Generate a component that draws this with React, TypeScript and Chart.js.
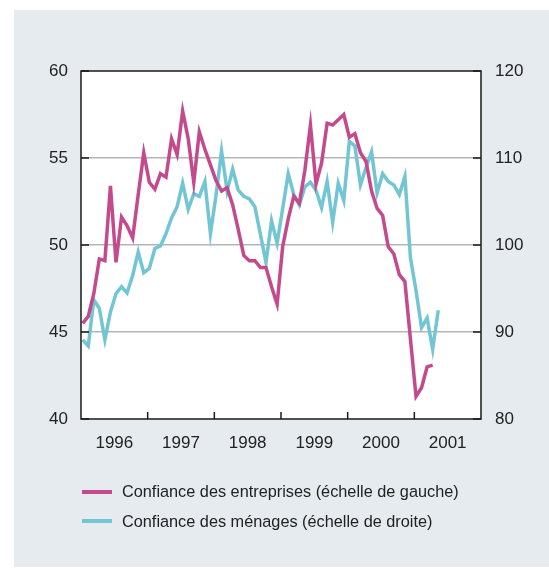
import React, { useEffect, useRef } from "react";
import { Chart, registerables } from "chart.js";

Chart.register(...registerables);

const startYear = 1996;
const endYear = 2002;
const yearTicks = [1996, 1997, 1998, 1999, 2000, 2001];

const businessLabel = "Confiance des entreprises (échelle de gauche)";
const householdLabel = "Confiance des ménages (échelle de droite)";

// Monthly values from January 1996
const businessConfidence = [
  45.5, 45.9, 47.2, 49.2, 49.1, 53.4, 49.0, 51.6, 51.1, 50.4, 52.9, 55.3,
  53.6, 53.2, 54.1, 53.9, 56.1, 55.2, 57.7, 56.1, 53.6, 56.5, 55.5, 54.6,
  53.7, 53.1, 53.3, 52.3, 50.9, 49.4, 49.1, 49.1, 48.7, 48.7, 47.6, 46.6,
  49.9, 51.5, 52.8, 52.4, 54.3, 56.9, 53.5, 54.7, 57.0, 56.9, 57.2, 57.5,
  56.2, 56.4, 55.3, 54.8, 53.1, 52.1, 51.7, 49.9, 49.5, 48.3, 47.9, 44.6,
  41.3, 41.8, 43.0, 43.1,
];

const householdConfidence = [
  89.1, 88.4, 93.7, 92.7, 89.1, 92.3, 94.4, 95.2, 94.5, 96.5, 99.2, 96.8,
  97.3, 99.6, 99.9, 101.3, 103.1, 104.4, 107.1, 104.1, 105.9, 105.6, 107.3, 101.3,
  105.7, 110.8, 106.2, 108.7, 106.3, 105.6, 105.3, 104.4, 101.2, 98.0, 102.8, 100.2,
  104.2, 108.2, 105.8, 104.6, 106.7, 107.2, 106.3, 104.3, 107.3, 102.6, 107.1, 105.1,
  111.9, 111.4, 106.9, 108.9, 110.7, 106.0, 108.2, 107.3, 106.9, 105.8, 107.9, 98.5,
  94.8, 90.5, 91.6, 88.0, 92.5,
];

const leftTicks = [40, 45, 50, 55, 60];
const rightTicks = [80, 90, 100, 110, 120];

const magenta = "#c44a8e";
const cyan = "#72c6d4";
const panelBg = "#e5ebef";
const textColor = "#222222";
const FONT = "'Liberation Sans', Arial, sans-serif";

const monthX = (i: number) => startYear + (i + 0.3) / 12;

const frame = {
  id: "frame",
  beforeDraw(chart: any) {
    const { ctx, chartArea: a } = chart;
    ctx.save();
    ctx.fillStyle = "#ffffff";
    ctx.fillRect(a.left, a.top, a.right - a.left, a.bottom - a.top);
    ctx.restore();
  },
  afterDraw(chart: any) {
    const { ctx, chartArea: a, scales } = chart;
    ctx.save();
    ctx.strokeStyle = "#1a1a1a";
    ctx.lineWidth = 1.5;
    ctx.beginPath();
    leftTicks.forEach((v) => {
      const y = scales.y.getPixelForValue(v);
      ctx.moveTo(a.left, y);
      ctx.lineTo(a.left + 8, y);
    });
    rightTicks.forEach((v) => {
      const y = scales.y2.getPixelForValue(v);
      ctx.moveTo(a.right, y);
      ctx.lineTo(a.right - 8, y);
    });
    for (let yr = startYear + 1; yr < endYear; yr++) {
      const x = scales.x.getPixelForValue(yr);
      ctx.moveTo(x, a.bottom);
      ctx.lineTo(x, a.bottom - 7);
    }
    ctx.stroke();
    ctx.strokeRect(a.left, a.top, a.right - a.left, a.bottom - a.top);
    ctx.restore();
  },
};

export default function App() {
  const ref = useRef<HTMLCanvasElement | null>(null);

  useEffect(() => {
    document.body.style.margin = "0";
    const canvas = ref.current;
    if (!canvas) return;
    const chart = new Chart(canvas, {
      type: "line",
      data: {
        datasets: [
          {
            label: businessLabel,
            data: businessConfidence.map((v, i) => ({ x: monthX(i), y: v })),
            borderColor: magenta,
            backgroundColor: magenta,
            borderWidth: 3.5,
            pointRadius: 0,
            tension: 0,
            yAxisID: "y",
          },
          {
            label: householdLabel,
            data: householdConfidence.map((v, i) => ({ x: monthX(i), y: v })),
            borderColor: cyan,
            backgroundColor: cyan,
            borderWidth: 3.5,
            pointRadius: 0,
            tension: 0,
            yAxisID: "y2",
          },
        ],
      },
      options: {
        animation: false,
        responsive: false,
        maintainAspectRatio: false,
        layout: { padding: { left: 0, right: 0, top: 71, bottom: 113 } },
        plugins: { legend: { display: false }, tooltip: { enabled: false } },
        scales: {
          x: {
            type: "linear",
            min: startYear,
            max: endYear,
            grid: { display: false, drawTicks: false },
            border: { display: false },
            afterBuildTicks: (s: any) => {
              s.ticks = [...yearTicks, endYear].map((v) => ({ value: v }));
            },
            afterFit: (s: any) => {
              s.height = 40;
            },
            ticks: {
              autoSkip: false,
              maxRotation: 0,
              padding: 14,
              labelOffset: 33.33,
              color: textColor,
              font: { family: FONT, size: 17 },
              callback: (v: any) => (yearTicks.includes(v) ? String(v) : ""),
            },
          },
          y: {
            position: "left",
            min: 40,
            max: 60,
            afterBuildTicks: (s: any) => {
              s.ticks = leftTicks.map((v) => ({ value: v }));
            },
            afterFit: (s: any) => {
              s.width = 81;
            },
            grid: {
              color: (c: any) =>
                c.tick && (c.tick.value === 40 || c.tick.value === 60) ? "rgba(0,0,0,0)" : "#b5b5b5",
              lineWidth: 1.5,
              drawTicks: false,
            },
            border: { display: false },
            ticks: {
              padding: 13,
              color: textColor,
              font: { family: FONT, size: 17 },
            },
          },
          y2: {
            position: "right",
            min: 80,
            max: 120,
            afterBuildTicks: (s: any) => {
              s.ticks = rightTicks.map((v) => ({ value: v }));
            },
            afterFit: (s: any) => {
              s.width = 68;
            },
            grid: { display: false, drawTicks: false },
            border: { display: false },
            ticks: {
              padding: 14,
              color: textColor,
              font: { family: FONT, size: 17 },
            },
          },
        },
      },
      plugins: [frame],
    });
    return () => chart.destroy();
  }, []);

  const legendItems = [
    { label: businessLabel, color: magenta, top: 491.5 },
    { label: householdLabel, color: cyan, top: 521 },
  ];

  return (
    <div style={{ position: "relative", width: 549, height: 572, background: "#ffffff", overflow: "hidden" }}>
      <div style={{ position: "absolute", left: 14, top: 10, width: 535, height: 557, background: panelBg }} />
      <canvas ref={ref} width={549} height={572} style={{ position: "absolute", left: 0, top: 0, width: 549, height: 572 }} />
      {legendItems.map((it) => (
        <div
          key={it.label}
          style={{
            position: "absolute",
            left: 82,
            top: it.top - 12,
            height: 24,
            display: "flex",
            alignItems: "center",
            fontFamily: FONT,
            fontSize: 16.3,
            color: textColor,
            whiteSpace: "nowrap",
          }}
        >
          <span style={{ display: "inline-block", width: 30, height: 4, background: it.color, marginRight: 10 }} />
          <span>{it.label}</span>
        </div>
      ))}
    </div>
  );
}
